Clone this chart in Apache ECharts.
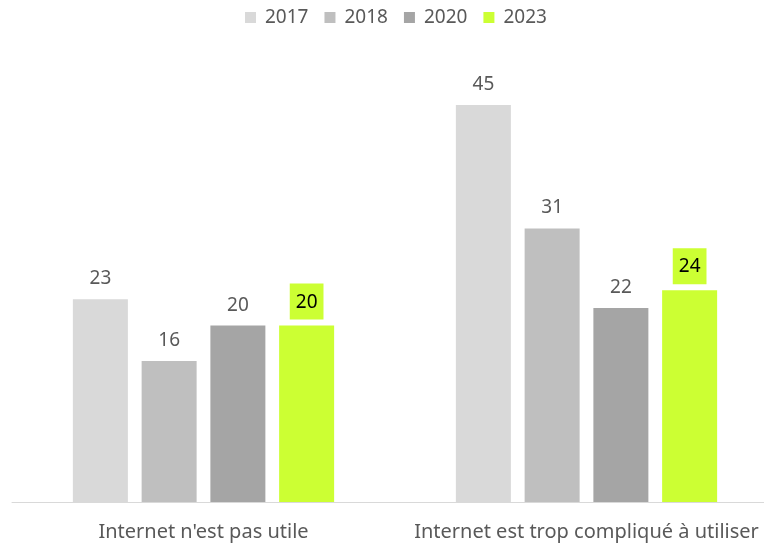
<!DOCTYPE html>
<html><head><meta charset="utf-8">
<script src="https://cdn.jsdelivr.net/npm/echarts@6/dist/echarts.min.js"></script>
<style>html,body{margin:0;padding:0;background:#fff;overflow:hidden}#c{width:778px;height:545px}</style>
</head><body><div id="c"></div>
<script>
const categories = ["Internet n'est pas utile", "Internet est trop compliqué à utiliser"];
const years = ["2017", "2018", "2020", "2023"];
const v2017 = [23, 45];
const v2018 = [16, 31];
const v2020 = [20, 22];
const v2023 = [20, 24];
const colors = ["#d9d9d9", "#bfbfbf", "#a5a5a5", "#ccff33"];
const FONT = "Noto Sans";
const values = [v2017, v2018, v2020, v2023];
const chart = echarts.init(document.getElementById('c'));
const series = years.map((y, i) => {
  const hl = i === 3;
  return {
    name: y, type: 'bar', data: values[i], barWidth: 55, barGap: '25%',
    itemStyle: {color: colors[i]},
    label: hl ? {
      show: true, position: 'top', distance: 6, color: '#000', fontSize: 19, fontFamily: FONT,
      backgroundColor: '#ccff33', padding: [9, 6, 8, 6]
    } : {
      show: true, position: 'top', distance: 11, color: '#595959', fontSize: 19, fontFamily: FONT
    }
  };
});
chart.setOption({
  animation: false,
  color: colors,
  legend: {
    top: 3, left: 240, itemWidth: 11, itemHeight: 11, itemGap: 16, icon: 'rect',
    textStyle: {color: '#595959', fontSize: 19, fontFamily: FONT, padding: [0, 0, 0, 4]}
  },
  grid: {left: 12, right: 0, top: 61, bottom: 43},
  xAxis: {
    type: 'category', data: categories,
    axisLine: {lineStyle: {color: '#d9d9d9', width: 1}},
    axisTick: {show: false},
    axisLabel: {color: '#595959', fontSize: 20, fontFamily: FONT, margin: 20, interval: 0}
  },
  yAxis: {type: 'value', min: 0, max: 50, show: false, splitLine: {show: false}},
  series: series
});
</script></body></html>
